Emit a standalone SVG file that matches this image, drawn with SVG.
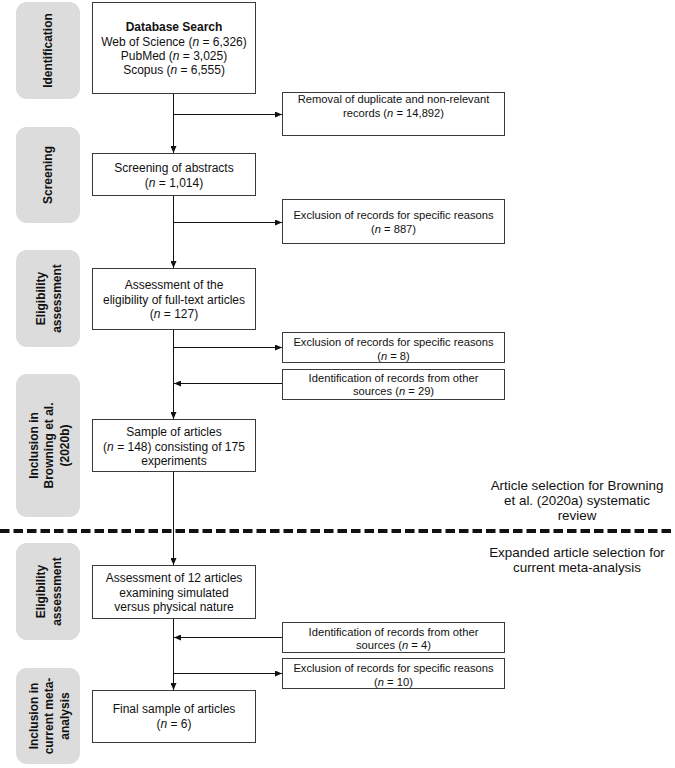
<svg xmlns="http://www.w3.org/2000/svg" width="675" height="768" viewBox="0 0 675 768">
<style>
text{font-family:"Liberation Sans",Arial,sans-serif;fill:#111;text-anchor:middle}
.m{font-size:12px}
.r{font-size:11.2px}
.n{font-size:13.4px}
.lab{font-size:12px;font-weight:bold}
.box{fill:#fff;stroke:#3a3a3a;stroke-width:1}
.tag{fill:#dcdcdc;stroke:none}
.c{fill:none;stroke:#111;stroke-width:1}
i,.it{font-style:italic}
</style>
<defs>
<marker id="ah" markerUnits="userSpaceOnUse" markerWidth="7" markerHeight="6" refX="7" refY="3" orient="auto">
<path d="M0,0 L7,3 L0,6 z" fill="#111"/>
</marker>
</defs>

<g id="stage-labels">
<g id="lab-identification"><rect class="tag" x="16" y="2" width="64" height="97" rx="11"/>
<text class="lab" transform="translate(48,50.5) rotate(-90)" y="4.3">Identification</text></g>
<g id="lab-screening"><rect class="tag" x="16" y="127" width="64" height="96" rx="11"/>
<text class="lab" transform="translate(48,175) rotate(-90)" y="4.3">Screening</text></g>
<g id="lab-eligibility1"><rect class="tag" x="16" y="250" width="64" height="97" rx="11"/>
<text class="lab" transform="translate(48,298.5) rotate(-90)"><tspan x="0" y="-3">Eligibility</tspan><tspan x="0" y="12.7">assessment</tspan></text></g>
<g id="lab-inclusion1"><rect class="tag" x="16" y="374" width="64" height="143" rx="11"/>
<text class="lab" transform="translate(48,445.5) rotate(-90)"><tspan x="0" y="-10.5">Inclusion in</tspan><tspan x="0" y="5.3">Browning et al.</tspan><tspan x="0" y="21">(2020b)</tspan></text></g>
<g id="lab-eligibility2"><rect class="tag" x="16" y="543" width="64" height="97" rx="11"/>
<text class="lab" transform="translate(48,591.5) rotate(-90)"><tspan x="0" y="-3">Eligibility</tspan><tspan x="0" y="12.7">assessment</tspan></text></g>
<g id="lab-inclusion2"><rect class="tag" x="16" y="668" width="64" height="96" rx="11"/>
<text class="lab" transform="translate(48,716) rotate(-90)"><tspan x="0" y="-10.5">Inclusion in</tspan><tspan x="0" y="5.3">current meta-</tspan><tspan x="0" y="21">analysis</tspan></text></g>
</g>

<g id="connectors">
<path class="c" d="M173.5 93.5 V153" marker-end="url(#ah)"/>
<path class="c" d="M173.5 114.5 H282" marker-end="url(#ah)"/>
<path class="c" d="M173.5 195.5 V268" marker-end="url(#ah)"/>
<path class="c" d="M173.5 222.5 H282" marker-end="url(#ah)"/>
<path class="c" d="M173.5 329.5 V419" marker-end="url(#ah)"/>
<path class="c" d="M173.5 347.5 H282" marker-end="url(#ah)"/>
<path class="c" d="M282.5 383.5 H174" marker-end="url(#ah)"/>
<path class="c" d="M173.5 471.5 V565" marker-end="url(#ah)"/>
<path class="c" d="M173.5 618.5 V690" marker-end="url(#ah)"/>
<path class="c" d="M282.5 637.5 H174" marker-end="url(#ah)"/>
<path class="c" d="M173.5 673.5 H282" marker-end="url(#ah)"/>
</g>

<g id="database-search"><rect class="box" x="92.5" y="2.5" width="163" height="91"/>
<text class="m" x="174" y="31" font-weight="bold">Database Search</text>
<text class="m" x="174" y="45.5">Web of Science (<tspan class="it">n</tspan> = 6,326)</text>
<text class="m" x="174" y="60">PubMed (<tspan class="it">n</tspan> = 3,025)</text>
<text class="m" x="174" y="74">Scopus (<tspan class="it">n</tspan> = 6,555)</text></g>

<g id="removal"><rect class="box" x="282.5" y="92.5" width="222" height="43"/>
<text class="r" x="393.5" y="103">Removal of duplicate and non-relevant</text>
<text class="r" x="393.5" y="117">records (<tspan class="it">n</tspan> = 14,892)</text></g>

<g id="screening"><rect class="box" x="92.5" y="153.5" width="163" height="42"/>
<text class="m" x="174" y="172">Screening of abstracts</text>
<text class="m" x="174" y="187">(<tspan class="it">n</tspan> = 1,014)</text></g>

<g id="exclusion-887"><rect class="box" x="282.5" y="199.5" width="222" height="44"/>
<text class="r" x="393.5" y="219">Exclusion of records for specific reasons</text>
<text class="r" x="393.5" y="233">(<tspan class="it">n</tspan> = 887)</text></g>

<g id="assessment-fulltext"><rect class="box" x="92.5" y="268.5" width="163" height="61"/>
<text class="m" x="174" y="289">Assessment of the</text>
<text class="m" x="174" y="303.5">eligibility of full-text articles</text>
<text class="m" x="174" y="318">(<tspan class="it">n</tspan> = 127)</text></g>

<g id="exclusion-8"><rect class="box" x="282.5" y="332.5" width="222" height="30"/>
<text class="r" x="393.5" y="346">Exclusion of records for specific reasons</text>
<text class="r" x="393.5" y="359.5">(<tspan class="it">n</tspan> = 8)</text></g>

<g id="identification-29"><rect class="box" x="282.5" y="369.5" width="222" height="30"/>
<text class="r" x="393.5" y="381.5">Identification of records from other</text>
<text class="r" x="393.5" y="395">sources (<tspan class="it">n</tspan> = 29)</text></g>

<g id="sample-148"><rect class="box" x="92.5" y="419.5" width="163" height="52"/>
<text class="m" x="174" y="436">Sample of articles</text>
<text class="m" x="174" y="450.5">(<tspan class="it">n</tspan> = 148) consisting of 175</text>
<text class="m" x="174" y="465">experiments</text></g>

<g id="note-browning">
<text class="n" x="577" y="489.5">Article selection for Browning</text>
<text class="n" x="577" y="504.5">et al. (2020a) systematic</text>
<text class="n" x="577" y="519.5">review</text></g>

<g id="divider"><line x1="0" y1="531" x2="675" y2="531" stroke="#111" stroke-width="4" stroke-dasharray="9.5 4"/></g>

<g id="note-expanded">
<text class="n" x="577" y="557">Expanded article selection for</text>
<text class="n" x="577" y="572">current meta-analysis</text></g>

<g id="assessment-12"><rect class="box" x="92.5" y="565.5" width="163" height="53"/>
<text class="m" x="174" y="582">Assessment of 12 articles</text>
<text class="m" x="174" y="596.5">examining simulated</text>
<text class="m" x="174" y="611">versus physical nature</text></g>

<g id="identification-4"><rect class="box" x="282.5" y="622.5" width="222" height="30"/>
<text class="r" x="393.5" y="635.5">Identification of records from other</text>
<text class="r" x="393.5" y="649">sources (<tspan class="it">n</tspan> = 4)</text></g>

<g id="exclusion-10"><rect class="box" x="282.5" y="658.5" width="222" height="30"/>
<text class="r" x="393.5" y="672">Exclusion of records for specific reasons</text>
<text class="r" x="393.5" y="685.5">(<tspan class="it">n</tspan> = 10)</text></g>

<g id="final-sample"><rect class="box" x="92.5" y="690.5" width="163" height="52"/>
<text class="m" x="174" y="713">Final sample of articles</text>
<text class="m" x="174" y="728">(<tspan class="it">n</tspan> = 6)</text></g>
</svg>
